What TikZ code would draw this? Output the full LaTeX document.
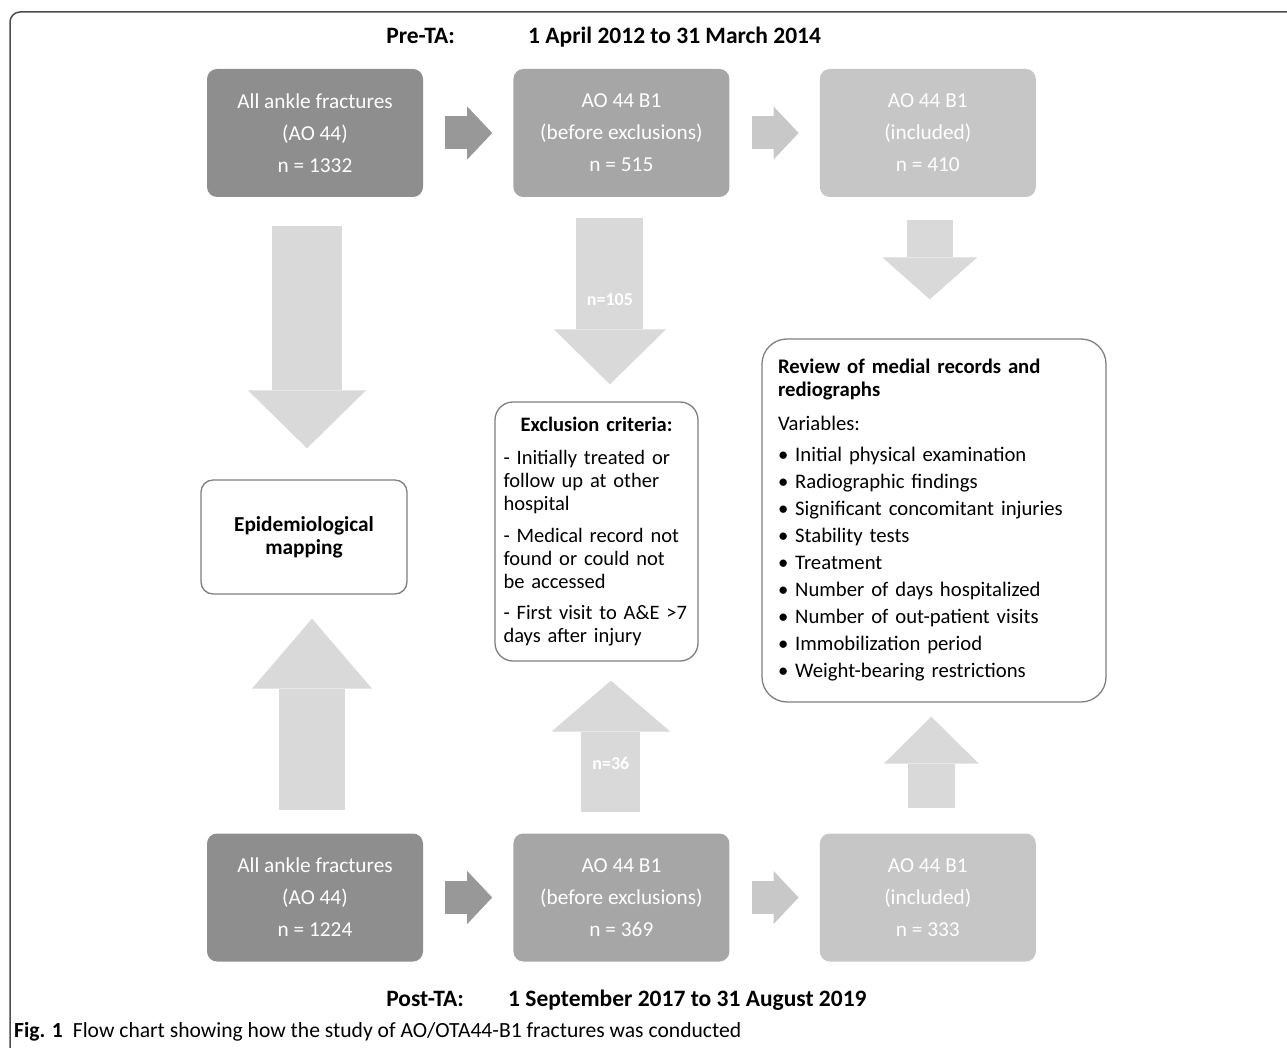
\documentclass[tikz,border=0pt]{standalone}
\usepackage{fontspec}
\setmainfont{Carlito}
\usetikzlibrary{positioning, arrows.meta, calc}
\definecolor{darkgrey}{HTML}{8E8E8E}
\definecolor{midgrey}{HTML}{A6A6A6}
\definecolor{lightgrey}{HTML}{C6C6C6}
\definecolor{darkarrow}{HTML}{989898}
\definecolor{lightarrow}{HTML}{C8C8C8}
\definecolor{pale}{HTML}{D9D9D9}
\definecolor{edgegrey}{HTML}{7F7F7F}
\definecolor{framegrey}{HTML}{4D4D4D}
\tikzset{
	x=1pt, y=-1pt, % one unit is one pixel of the chart, y grows downwards
	node distance=90pt, % gap between two boxes of a row
	stage/.style={rounded corners=10pt, minimum width=216pt, minimum height=128pt, inner sep=0pt, text=white, align=center, font=\fontsize{21.3}{32}\selectfont}, % grey count boxes
	allbox/.style={stage, fill=darkgrey},
	beforebox/.style={stage, fill=midgrey},
	inclbox/.style={stage, fill=lightgrey},
	textbox/.style={draw=edgegrey, line width=1.3pt, fill=white, font=\fontsize{20.5}{23}\selectfont}, % white boxes with the outcome
	period/.style={inner sep=0pt, font=\bfseries\fontsize{23.5}{27}\selectfont}, % the two time windows
	fat/.style n args={4}{draw=#1, line width=#2, -{Triangle[width=#3, length=#4, line width=0pt]}}, % block arrow: colour, shaft, head width, head length
	tally/.style={text=white, font=\bfseries\fontsize{18}{20}\selectfont},
}
\begin{document}
\begin{tikzpicture}
	\useasboundingbox (0,0) rectangle (1287,1048);
	\draw[framegrey, line width=1.5pt, rounded corners=10pt] (1287,12) -- (10,12) -- (10,1048);

	\node[period, anchor=base east] (preta) at (455,44) {Pre-TA:};
	\node[period, anchor=base west] (predate) at (528,44) {1 April 2012 to 31 March 2014};

	\node[allbox] (pre1) at (315,133) {All ankle fractures\\(AO 44)\\n = 1332};
	\node[beforebox, right=of pre1] (pre2) {AO 44 B1\\(before exclusions)\\n = 515};
	\node[inclbox, right=of pre2] (pre3) {AO 44 B1\\(included)\\n = 410};

	\node[textbox, rounded corners=12pt, minimum width=206pt, minimum height=114pt, align=center, font=\bfseries\fontsize{21.3}{23}\selectfont] (epi) at (304,537) {Epidemiological\\mapping};

	\node[textbox, rounded corners=18pt, minimum width=203pt, minimum height=259pt, text width=186pt, inner xsep=8.5pt, align=left] (excl) at (596.5,531.5) {%
		\makebox[186pt][c]{\bfseries Exclusion criteria:}\\[10pt]
		- Initially treated or\\
		follow up at other\\
		hospital\\[9pt]
		- Medical record not\\
		found or could not\\
		be accessed\\[8pt]
		- First visit to A\&E >7\\
		days after injury};

	\node[textbox, rounded corners=25pt, minimum width=344pt, minimum height=363pt, text width=312pt, inner xsep=16pt, align=left, font=\fontsize{20.7}{27}\selectfont] (review) at (934,520.5) {%
		\textbf{Review of medial records and}\\[-4pt]
		\textbf{rediographs}\\[7pt]
		Variables:\\[4pt]
		\textbullet\ Initial physical examination\\
		\textbullet\ Radiographic findings\\
		\textbullet\ Significant concomitant injuries\\
		\textbullet\ Stability tests\\
		\textbullet\ Treatment\\
		\textbullet\ Number of days hospitalized\\
		\textbullet\ Number of out-patient visits\\
		\textbullet\ Immobilization period\\
		\textbullet\ Weight-bearing restrictions};

	\node[allbox] (post1) at (315,897.5) {All ankle fractures\\(AO 44)\\n = 1224};
	\node[beforebox, right=of post1] (post2) {AO 44 B1\\(before exclusions)\\n = 369};
	\node[inclbox, right=of post2] (post3) {AO 44 B1\\(included)\\n = 333};

	\node[period, anchor=base east] (postta) at (464,1006) {Post-TA:};
	\node[period, anchor=base west] (postdate) at (508,1006) {1 September 2017 to 31 August 2019};

	\node[anchor=base west, inner sep=0pt, font=\fontsize{21.6}{24}\selectfont] (caption) at (14,1037) {\textbf{Fig. 1}\hspace{10pt}Flow chart showing how the study of AO/OTA44-B1 fractures was conducted};

	% where the block arrows leave the boxes
	\coordinate (d1) at ([xshift=-8pt]pre1.south);
	\coordinate (u1) at ([xshift=-3pt]post1.north);
	\coordinate (d2) at ([xshift=-11.5pt]pre2.south);
	\coordinate (u2) at ([xshift=-10.5pt]post2.north);
	\coordinate (d3) at ([xshift=2pt]pre3.south);
	\coordinate (u3) at ([xshift=3.5pt]post3.north);

	\draw (pre1) edge[fat={darkarrow}{33pt}{53pt}{25pt}, shorten <=22pt, shorten >=21pt] (pre2)
		  (pre2) edge[fat={lightarrow}{33pt}{53pt}{25pt}, shorten <=22pt, shorten >=21pt] (pre3)
		  %
		  (post1) edge[fat={darkarrow}{33pt}{53pt}{25pt}, shorten <=22pt, shorten >=21pt] (post2)
		  (post2) edge[fat={lightarrow}{33pt}{53pt}{25pt}, shorten <=22pt, shorten >=21pt] (post3)
		  %
		  (d1) edge[fat={pale}{70pt}{118pt}{58pt}, shorten <=29pt, shorten >=31pt] (d1 |- epi.north)
		  (u1) edge[fat={pale}{66pt}{120pt}{70pt}, shorten <=23.5pt, shorten >=24pt] (u1 |- epi.south)
		  %
		  (d2) edge[fat={pale}{67pt}{112pt}{55pt}, shorten <=21pt, shorten >=17pt] node[tally, pos=0.5] {n=105} (d2 |- excl.north)
		  (u2) edge[fat={pale}{59pt}{119pt}{51pt}, shorten <=21.5pt, shorten >=19pt] node[tally, pos=0.41] {n=36} (u2 |- excl.south)
		  %
		  (d3) edge[fat={pale}{46pt}{95pt}{42pt}, shorten <=23pt, shorten >=39pt] (d3 |- review.north)
		  (u3) edge[fat={pale}{47pt}{95pt}{47pt}, shorten <=25.5pt, shorten >=14pt] (u3 |- review.south)
	;
\end{tikzpicture}
\end{document}
